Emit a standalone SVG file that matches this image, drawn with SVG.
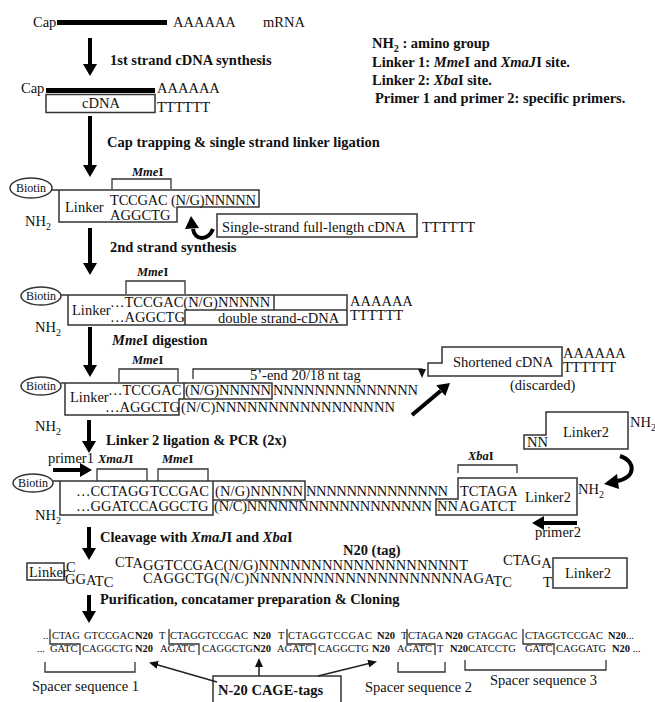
<svg xmlns="http://www.w3.org/2000/svg" width="655" height="702" viewBox="0 0 655 702" font-family="'Liberation Serif', 'Times New Roman', serif">
<defs>
<style>
text{font-family:"Liberation Serif","Times New Roman",serif;fill:#111;font-size:14.5px}
.b{font-weight:bold}
.i{font-style:italic}
.lab{font-weight:bold;font-size:14.5px}
.enz{font-weight:bold;font-size:12.5px}
.bio{font-size:12px}
.sm{font-size:10.5px}
.box{fill:none;stroke:#333;stroke-width:1.5}
.br{fill:none;stroke:#333;stroke-width:1.3}
.big{stroke:#000;stroke-width:4;fill:none;marker-end:url(#ah)}
.thin{stroke:#222;stroke-width:1.5;fill:none;marker-end:url(#ta)}
.bar{fill:#000}
</style>
<marker id="ah" viewBox="0 0 12 14" refX="0" refY="7" markerWidth="12" markerHeight="14" markerUnits="userSpaceOnUse" orient="auto"><path d="M0,0 L12,7 L0,14 z" fill="#000"/></marker>
<marker id="ta" viewBox="0 0 9 8" refX="7" refY="4" markerWidth="9" markerHeight="8" markerUnits="userSpaceOnUse" orient="auto"><path d="M0,0 L9,4 L0,8 z" fill="#111"/></marker>
</defs>
<rect width="655" height="702" fill="#fff"/>

<g id="legend">
<text class="b" x="372" y="48">NH<tspan font-size="10" dy="4">2</tspan><tspan dy="-4"> : amino group</tspan></text>
<text class="b" x="372" y="67">Linker 1: <tspan class="i">Mme</tspan>I and <tspan class="i">XmaJ</tspan>I site.</text>
<text class="b" x="372" y="85">Linker 2: <tspan class="i">Xba</tspan>I site.</text>
<text class="b" x="375" y="103">Primer 1 and primer 2: specific primers.</text>
</g>

<g id="mrna">
<text x="33" y="27">Cap</text>
<rect class="bar" x="57" y="20" width="110" height="5"/>
<text x="173" y="27">AAAAAA</text>
<text x="263" y="27">mRNA</text>
</g>

<g id="first-strand">
<text x="21" y="93">Cap</text>
<rect class="bar" x="46" y="88" width="109" height="5"/>
<text x="157" y="93">AAAAAA</text>
<rect class="box" x="46" y="94.5" width="109" height="18"/>
<text x="82" y="108">cDNA</text>
<text x="157" y="112">TTTTTT</text>
</g>

<g id="linker-ligation">
<text class="enz" x="132" y="176"><tspan class="i">Mme</tspan>I</text>
<path class="br" d="M112,189 V179 H171 V189"/>
<ellipse class="box" cx="31" cy="188" rx="21" ry="10"/>
<text class="bio" x="31" y="192" text-anchor="middle">Biotin</text>
<path class="box" d="M52,190 H259 V207 H177 V222 H59 V190"/>
<text x="65" y="212">Linker</text>
<text x="110" y="205" textLength="146">TCCGAC (N/G)NNNNN</text>
<text x="110" y="220">AGGCTG</text>
<text x="25" y="226">NH<tspan font-size="10" dy="4">2</tspan></text>
<rect class="box" x="217" y="214" width="200" height="23"/>
<text x="222" y="232">Single-strand full-length cDNA</text>
<text x="422" y="232">TTTTTT</text>
</g>

<g id="second-strand">
<text class="enz" x="137" y="276"><tspan class="i">Mme</tspan>I</text>
<path class="br" d="M126,294 V281 H185 V294"/>
<ellipse class="box" cx="41" cy="296" rx="20" ry="9"/>
<text class="bio" x="41" y="300" text-anchor="middle">Biotin</text>
<path class="box" d="M61,295 H347 V325 H68 V295"/>
<path class="box" d="M274,295 V310 M185,325 V310 H347"/>
<text x="72" y="315">Linker</text>
<text x="110" y="307">…TCCGAC(N/G)NNNNN</text>
<text x="110" y="322">…AGGCTG</text>
<text x="218" y="323">double strand-cDNA</text>
<text x="350" y="306">AAAAAA</text>
<text x="350" y="320">TTTTTT</text>
<text x="35" y="332">NH<tspan font-size="10" dy="4">2</tspan></text>
</g>

<g id="mme-digestion">
<text class="enz" x="132" y="364"><tspan class="i">Mme</tspan>I</text>
<path class="br" d="M119,382 V369 H178 V382"/>
<path class="br" d="M193,379 V369 H422 V376" marker-end="url(#ta)"/>
<text font-size="13" x="250" y="380">5’-end 20/18 nt tag</text>
<ellipse class="box" cx="41" cy="386" rx="20" ry="9"/>
<text class="bio" x="41" y="390" text-anchor="middle">Biotin</text>
<path class="box" d="M61,383 H272 V399 H184 V383 M65,383 V415 H179 V399 H184"/>
<text x="70" y="402">Linker</text>
<text x="108" y="395">…TCCGAC</text>
<text x="185" y="395" textLength="86">(N/G)NNNNN</text>
<text x="273" y="395" textLength="145">NNNNNNNNNNNNNN</text>
<text x="105" y="412">…AGGCTG</text>
<text x="181" y="412" textLength="214">(N/C)NNNNNNNNNNNNNNNNN</text>
<text x="35" y="431">NH<tspan font-size="10" dy="4">2</tspan></text>
</g>

<g id="shortened-cdna">
<path class="box" d="M428,363 H442 V347 H562 V376 H428 Z"/>
<text x="453" y="367">Shortened cDNA</text>
<text x="563" y="358">AAAAAA</text>
<text x="563" y="372">TTTTTT</text>
<text font-size="13.5" x="510" y="390">(discarded)</text>
</g>

<g id="linker2-free">
<path class="box" d="M524,435 H546 V412 H628 V449 H524 Z"/>
<text x="527" y="447">NN</text>
<text x="563" y="437">Linker2</text>
<text x="630" y="427">NH<tspan font-size="10" dy="4">2</tspan></text>
</g>

<g id="pcr-product">
<text font-size="10.5" x="48" y="463">primer1</text>
<text class="enz" x="98" y="463"><tspan class="i">XmaJ</tspan>I</text>
<text class="enz" x="162" y="463"><tspan class="i">Mme</tspan>I</text>
<path class="br" d="M97,481 V469 H147 V481 M158,481 V469 H208 V481"/>
<ellipse class="box" cx="33" cy="483" rx="20" ry="9"/>
<text class="bio" x="33" y="487" text-anchor="middle">Biotin</text>
<path class="box" d="M53,481 H305 V500 H213 M60,481 V515 H213 V481"/>
<text x="76" y="496">…CCTAGG</text>
<text x="150" y="496">TCCGAC</text>
<text x="215" y="496" textLength="88">(N/G)NNNNN</text>
<text x="306" y="496" textLength="142">NNNNNNNNNNNNNN</text>
<text x="76" y="511">…GGATCC</text>
<text x="148" y="511">AGGCTG</text>
<text x="214" y="511" textLength="218">(N/C)NNNNNNNNNNNNNNNNNN</text>
<text x="35" y="520">NH<tspan font-size="10" dy="4">2</tspan></text>
<text class="enz" x="468" y="460"><tspan class="i">Xba</tspan>I</text>
<path class="br" d="M458,473 V465 H517 V473"/>
<path class="box" d="M458,478 H577 V515 H436 V499 H458 Z"/>
<text x="460" y="496">TCTAGA</text>
<text x="437" y="511">NN</text>
<text x="459" y="511">AGATCT</text>
<text x="525" y="502">Linker2</text>
<text x="578" y="494">NH<tspan font-size="10" dy="4">2</tspan></text>
<text font-size="12" x="535" y="537">primer2</text>
</g>

<g id="cleavage">
<rect class="box" x="27" y="563" width="37" height="17"/>
<text font-size="12.5" x="29" y="576.5">Linker</text>
<text x="66" y="572">C</text>
<text x="65" y="584">GG<tspan dy="1">A</tspan><tspan dy="1">T</tspan><tspan dy="1">C</tspan></text>
<text x="115" y="570" textLength="353"><tspan dy="-3">CT</tspan><tspan dy="1">A</tspan><tspan dy="2">GGTCCGAC(N/G)NNNNNNNNNNNNNNNNNNNT</tspan></text>
<text x="143" y="583" textLength="369">CAGGCTG(N/C)NNNNNNNNNNNNNNNNNNNNAG<tspan dy="1">A</tspan><tspan dy="2">T</tspan><tspan dy="1">C</tspan></text>
<text class="b" x="343" y="555">N20 (tag)</text>
<text x="503" y="568"><tspan dy="-3">CTAG</tspan><tspan dy="3">A</tspan></text>
<text x="543" y="587">T</text>
<rect class="box" x="553" y="558" width="74" height="30"/>
<text x="565" y="578">Linker2</text>
</g>

<g id="concatamer">
<text class="sm" x="43" y="639">..</text>
<text class="sm" x="52" y="639">CTAG</text>
<text class="sm" x="84" y="639">GTCCGAC</text>
<text class="sm b" x="135" y="639">N20</text>
<text class="sm" x="159" y="639">T</text>
<text class="sm" x="170" y="639">CTAGGTCCGAC</text>
<text class="sm b" x="253" y="639">N20</text>
<text class="sm" x="278" y="639">T</text>
<text class="sm" x="288" y="639" textLength="84">CTAGGTCCGAC</text>
<text class="sm b" x="377" y="639">N20</text>
<text class="sm" x="401" y="639">T</text>
<text class="sm" x="408" y="639">CTAGA</text>
<text class="sm b" x="445" y="639">N20</text>
<text class="sm" x="467" y="639">GTAGGAC</text>
<text class="sm" x="525" y="639">CTAGGTCCGAC</text>
<text class="sm" x="608" y="639"><tspan class="b">N20</tspan>...</text>
<text class="sm" x="37" y="652">...</text>
<text class="sm" x="50" y="652">GATC</text>
<text class="sm" x="82" y="652">CAGGCTG</text>
<text class="sm b" x="135" y="652">N20</text>
<text class="sm" x="160" y="652">AGATC</text>
<text class="sm" x="202" y="652">CAGGCTG</text>
<text class="sm b" x="253" y="652">N20</text>
<text class="sm" x="277" y="652">AGATC</text>
<text class="sm" x="318" y="652">CAGGCTG</text>
<text class="sm b" x="372" y="652">N20</text>
<text class="sm" x="397" y="652">AGATC</text>
<text class="sm" x="437" y="652">T</text>
<text class="sm b" x="450" y="652">N20</text>
<text class="sm" x="468" y="652">CATCCTG</text>
<text class="sm" x="525" y="652">GATC</text>
<text class="sm" x="556" y="652">CAGGATG</text>
<text class="sm" x="612" y="652"><tspan class="b">N20</tspan> ...</text>
<path class="br" d="M50,629 V644 H80 V655 M169,629 V644 H199 V655 M287,629 V644 H315 V655 M407,629 V644 H435 V655 M523,629 V644 H554 V655"/>
<path class="br" d="M45,662 V672 H135 V662 M398,662 V672 H445 V662 M465,660 V670 H606 V660"/>
<text x="32" y="691">Spacer sequence 1</text>
<text x="365" y="692">Spacer sequence 2</text>
<text x="490" y="685">Spacer sequence 3</text>
</g>

<g id="cage-tags">
<rect class="box" x="213" y="676" width="128" height="32"/>
<text class="b" x="218" y="695">N-20 CAGE-tags</text>
</g>

<g id="connectors">
<path class="big" d="M90,38 V64"/>
<text class="lab" x="110" y="65">1st strand cDNA synthesis</text>
<path class="big" d="M90,116 V165"/>
<text class="lab" x="107" y="147">Cap trapping &amp; single strand linker ligation</text>
<path class="big" d="M90,228 V263"/>
<text class="lab" x="110" y="252">2nd strand synthesis</text>
<path class="big" d="M90,327 V365"/>
<text class="lab" x="112" y="345"><tspan class="i">Mme</tspan>I digestion</text>
<path class="big" d="M89,420 V441"/>
<text class="lab" x="106" y="445">Linker 2 ligation &amp; PCR (2x)</text>
<path class="big" d="M89,527 V548"/>
<text class="lab" x="100" y="542">Cleavage with <tspan class="i">XmaJ</tspan>I and <tspan class="i">Xba</tspan>I</text>
<path class="big" d="M89,595 V611"/>
<text class="lab" x="100" y="604">Purification, concatamer preparation &amp; Cloning</text>
<path class="big" d="M53,470 H80"/>
<path class="big" d="M577,523 H544"/>
<path class="big" d="M412,415 L440.8,390.7"/>
<path d="M213,229 C208,241 195,241 193,229" stroke="#000" stroke-width="4" fill="none"/>
<path d="M185,229 L199,228 L191,216 Z" fill="#000"/>
<path d="M620,456 C636,461 636,478 617,481" stroke="#000" stroke-width="4" fill="none"/>
<path d="M604,484 L617,474 L619,489 Z" fill="#000"/>
<path class="thin" d="M217,682 L151,663"/>
<path class="thin" d="M259,676 V660"/>
<path class="thin" d="M318,676 L375,662"/>
</g>
</svg>
